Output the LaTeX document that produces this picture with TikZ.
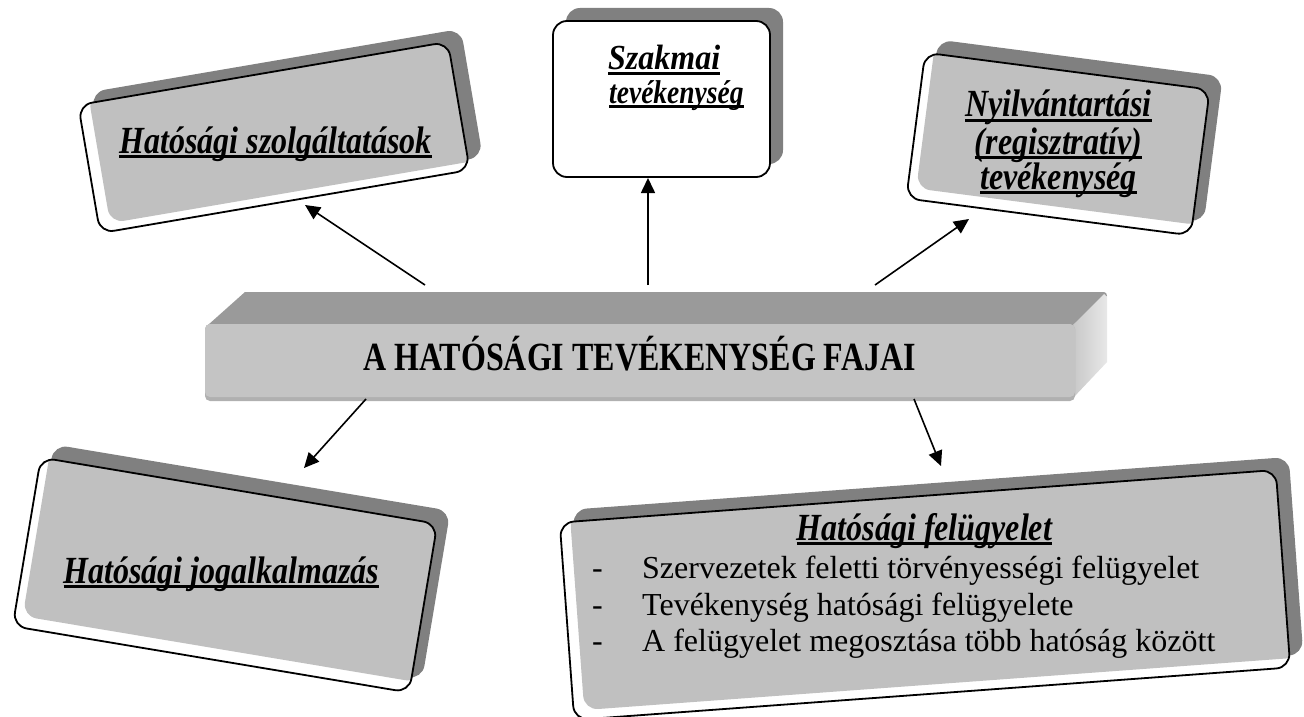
\documentclass[tikz,border=0pt]{standalone}
\usepackage{graphicx}
\usepackage{fontspec}
\setmainfont{Liberation Serif}
\usetikzlibrary{arrows.meta}

\definecolor{shadowgray}{HTML}{808080}
\definecolor{panelgray}{HTML}{C0C0C0}
\definecolor{bartop}{HTML}{9A9A9A}
\definecolor{barfront}{HTML}{C4C4C4}
\definecolor{baredge}{HTML}{B0B0B0}
\definecolor{barsideA}{HTML}{C8C8C8}
\definecolor{barsideB}{HTML}{E8E8E8}

% thick underline that sits just under the baseline
\newsavebox\ulsave
\newcommand\ulword[1]{\sbox\ulsave{#1}\rlap{\usebox\ulsave}\rule[-4.5pt]{\wd\ulsave}{3pt}}
% tall setting used for the headings
\newcommand\tall[2][1]{\scalebox{#1}[1.2]{#2}}

% rounded tile: centre x, centre y, angle, width, height
\newcommand\tileshadow[5]{%
  \fill[shadowgray, shift={(#1+13,#2-13)}, rotate=#3, rounded corners=14pt]
    (-#4/2,-#5/2) rectangle (#4/2,#5/2);
  \fill[white, shift={(#1,#2)}, rotate=#3, rounded corners=14pt]
    (-#4/2,-#5/2) rectangle (#4/2,#5/2);}
\newcommand\tilepanel[5]{%
  \begin{scope}
    \clip[shift={(#1,#2)}, rotate=#3, rounded corners=14pt]
      (-#4/2,-#5/2) rectangle (#4/2,#5/2);
    \fill[panelgray, shift={(#1+10,#2-10)}, rotate=#3, rounded corners=14pt]
      (-#4/2,-#5/2) rectangle (#4/2,#5/2);
  \end{scope}}
\newcommand\tileedge[5]{%
  \draw[line width=1.8pt, shift={(#1,#2)}, rotate=#3, rounded corners=14pt]
    (-#4/2,-#5/2) rectangle (#4/2,#5/2);}

\begin{document}
\begin{tikzpicture}[x=1pt, y=-1pt,
  head/.style={inner sep=0pt, anchor=base, font=\fontsize{32}{36}\selectfont\bfseries\itshape},
  smallhead/.style={inner sep=0pt, anchor=base west, font=\fontsize{27.5}{32}\selectfont\bfseries\itshape},
  body/.style={inner sep=0pt, anchor=base west, font=\fontsize{32}{36}\selectfont},
  bartitle/.style={inner sep=0pt, anchor=base, font=\fontsize{32}{36}\selectfont\bfseries},
  arr/.style={line width=1.6pt, -{Triangle[length=15pt, width=14pt]}}]

\useasboundingbox (0,0) rectangle (1304,717);
\fill[white] (0,0) rectangle (1304,717);

% ---- tiles ----
% Hatósági szolgáltatások
\tileshadow{274}{137.5}{9.7}{375}{130}
\tilepanel{274}{137.5}{9.7}{375}{130}
\tileedge{274}{137.5}{9.7}{375}{130}
% Szakmai tevékenység
\tileshadow{661.5}{99}{0}{217}{156}
\tileedge{661.5}{99}{0}{217}{156}
% Nyilvántartási tevékenység
\tileshadow{1058}{144}{-7.4}{287}{147}
\tilepanel{1058}{144}{-7.4}{287}{147}
\tileedge{1058}{144}{-7.4}{287}{147}
% Hatósági jogalkalmazás
\tileshadow{225}{575}{-9.5}{402}{171}
\tilepanel{225}{575}{-9.5}{402}{171}
\tileedge{225}{575}{-9.5}{402}{171}
% Hatósági felügyelet
\tileshadow{925}{595}{4.2}{718}{198}
\tilepanel{925}{595}{4.2}{718}{198}
\tileedge{925}{595}{4.2}{718}{198}

% ---- central bar ----
\fill[bartop] (208,325) -- (245,292) -- (1104,292) to[out=0,in=90] (1107,296) -- (1073,325) -- cycle;
\shade[left color=barsideA, right color=barsideB] (1073,325) -- (1104,294) -- (1107,297) -- (1107,362) -- (1073,398) -- cycle;
\fill[baredge, rounded corners=5pt] (205,324) rectangle (1075,401);
\fill[barfront, rounded corners=5pt] (205,324) rectangle (1075,397);

\node[bartitle] (title) at (639.5,370) {\scalebox{1}[1.25]{A HATÓSÁGI TEVÉKENYSÉG FAJAI}};

% ---- texts ----
\node[head] (t1) at (275.5,153) {\tall{\ulword{Hatósági szolgáltatások}}};
\node[head, anchor=base west] (t2a) at (608,70) {\scalebox{1}[1.1]{\ulword{Szakmai}}};
\node[smallhead] (t2b) at (609,103) {\tall{\ulword{tevékenység}}};
\node[head] (t3a) at (1058.5,117) {\tall{\ulword{Nyilvántartási}}};
\node[head] (t3b) at (1058.5,154) {\tall{\ulword{(regisztratív)}}};
\node[head] (t3c) at (1058.5,189) {\tall{\ulword{tevékenység}}};
\node[head] (t4) at (221.5,583) {\tall{\ulword{Hatósági jogalkalmazás}}};
\node[head] (t5) at (924.5,540) {\tall{\ulword{Hatósági felügyelet}}};
\node[body] (d1) at (592,578) {-};
\node[body] (d2) at (592,615) {-};
\node[body] (d3) at (592,651) {-};
\node[body] (l1) at (642,578) {Szervezetek feletti törvényességi felügyelet};
\node[body] (l2) at (642,615) {Tevékenység hatósági felügyelete};
\node[body] (l3) at (642,651) {A felügyelet megosztása több hatóság között};

% ---- connectors ----
\coordinate (s1) at (425,285);
\coordinate (e1) at (305,205);
\coordinate (s2) at (648,285);
\coordinate (e2) at (648,178);
\coordinate (s3) at (875,285);
\coordinate (e3) at (969,219);
\coordinate (s4) at (366,399);
\coordinate (e4) at (304,468);
\coordinate (s5) at (914,399);
\coordinate (e5) at (941,466);
\draw[arr] (s1) -- (e1);
\draw[arr] (s2) -- (e2);
\draw[arr] (s3) -- (e3);
\draw[arr] (s4) -- (e4);
\draw[arr] (s5) -- (e5);
\end{tikzpicture}
\end{document}
